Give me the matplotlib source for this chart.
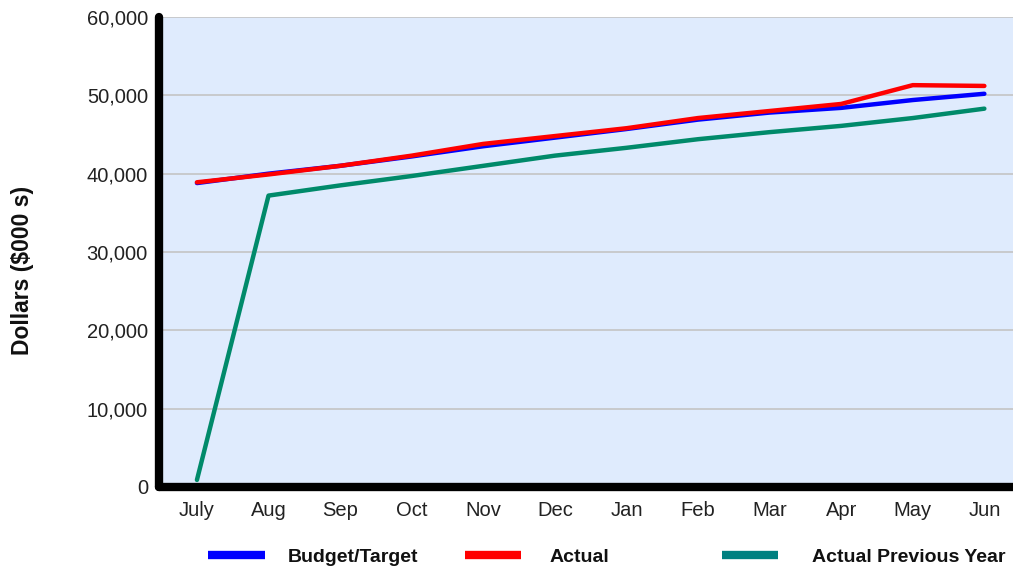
import matplotlib
matplotlib.use("Agg")
import matplotlib.pyplot as plt
from matplotlib.lines import Line2D
from matplotlib.ticker import FuncFormatter

plt.rcParams['font.family'] = ['Liberation Sans', 'DejaVu Sans']

months = ["July", "Aug", "Sep", "Oct", "Nov", "Dec", "Jan", "Feb", "Mar", "Apr", "May", "Jun"]
budget = [38800, 40000, 41000, 42200, 43500, 44600, 45700, 46900, 47800, 48400, 49400, 50200]
actual = [38900, 39900, 41000, 42300, 43800, 44800, 45800, 47100, 48000, 48900, 51300, 51200]
prev_year = [900, 37200, 38500, 39700, 41000, 42300, 43300, 44400, 45300, 46100, 47100, 48300]
yticks = [0, 10000, 20000, 30000, 40000, 50000, 60000]

W, H = 1013, 574
fig = plt.figure(figsize=(W / 100, H / 100), dpi=100)
fig.patch.set_facecolor("white")
ax = fig.add_axes([159 / W, 1 - 487 / H, (1013 - 159) / W, (487 - 17) / H])
ax.set_facecolor("#DFEBFD")

x = list(range(len(months)))
ax.plot(x, prev_year, color="#008A6A", lw=3.2, solid_capstyle="round", zorder=3)
ax.plot(x, budget, color="#0000FF", lw=3.2, solid_capstyle="round", zorder=4)
ax.plot(x, actual, color="#FF0000", lw=3.2, solid_capstyle="round", zorder=5)

ax.set_xlim(-0.53, 11.4)
ax.set_ylim(0, 60000)
ax.set_yticks(yticks)
ax.yaxis.set_major_formatter(FuncFormatter(lambda v, p: f"{int(v):,}"))
ax.set_xticks(x)
ax.set_xticklabels(months)
ax.tick_params(axis="both", length=0, labelsize=14.5, colors="#222222")
ax.tick_params(axis="x", pad=10)
ax.tick_params(axis="y", pad=8)
ax.grid(axis="y", color="#C4C4C4", lw=1.2, zorder=1)
ax.set_axisbelow(True)

for s in ["top", "right"]:
    ax.spines[s].set_visible(False)
for s in ["left", "bottom"]:
    ax.spines[s].set_color("black")
    ax.spines[s].set_linewidth(6)
    ax.spines[s].set_capstyle("round")

fig.text(22 / W, 1 - 270 / H, "Dollars ($000 s)", rotation=90, ha="center", va="center",
         fontsize=16.5, fontweight="bold", color="#111111")

# legend
legend_items = [
    ("Budget/Target", "#0000FF", 208, 265, 288),
    ("Actual", "#FF0000", 465, 521, 550),
    ("Actual Previous Year", "#008080", 722, 778, 812),
]
ly = 1 - 557 / H
for label, col, x0, x1, tx in legend_items:
    fig.add_artist(Line2D([x0 / W, x1 / W], [ly + 0.004, ly + 0.004], color=col, lw=6,
                          solid_capstyle="butt", transform=fig.transFigure))
    fig.text(tx / W, ly, label, ha="left", va="center", fontsize=14, fontweight="bold", color="#111111")

fig.savefig("out.png", dpi=100)
